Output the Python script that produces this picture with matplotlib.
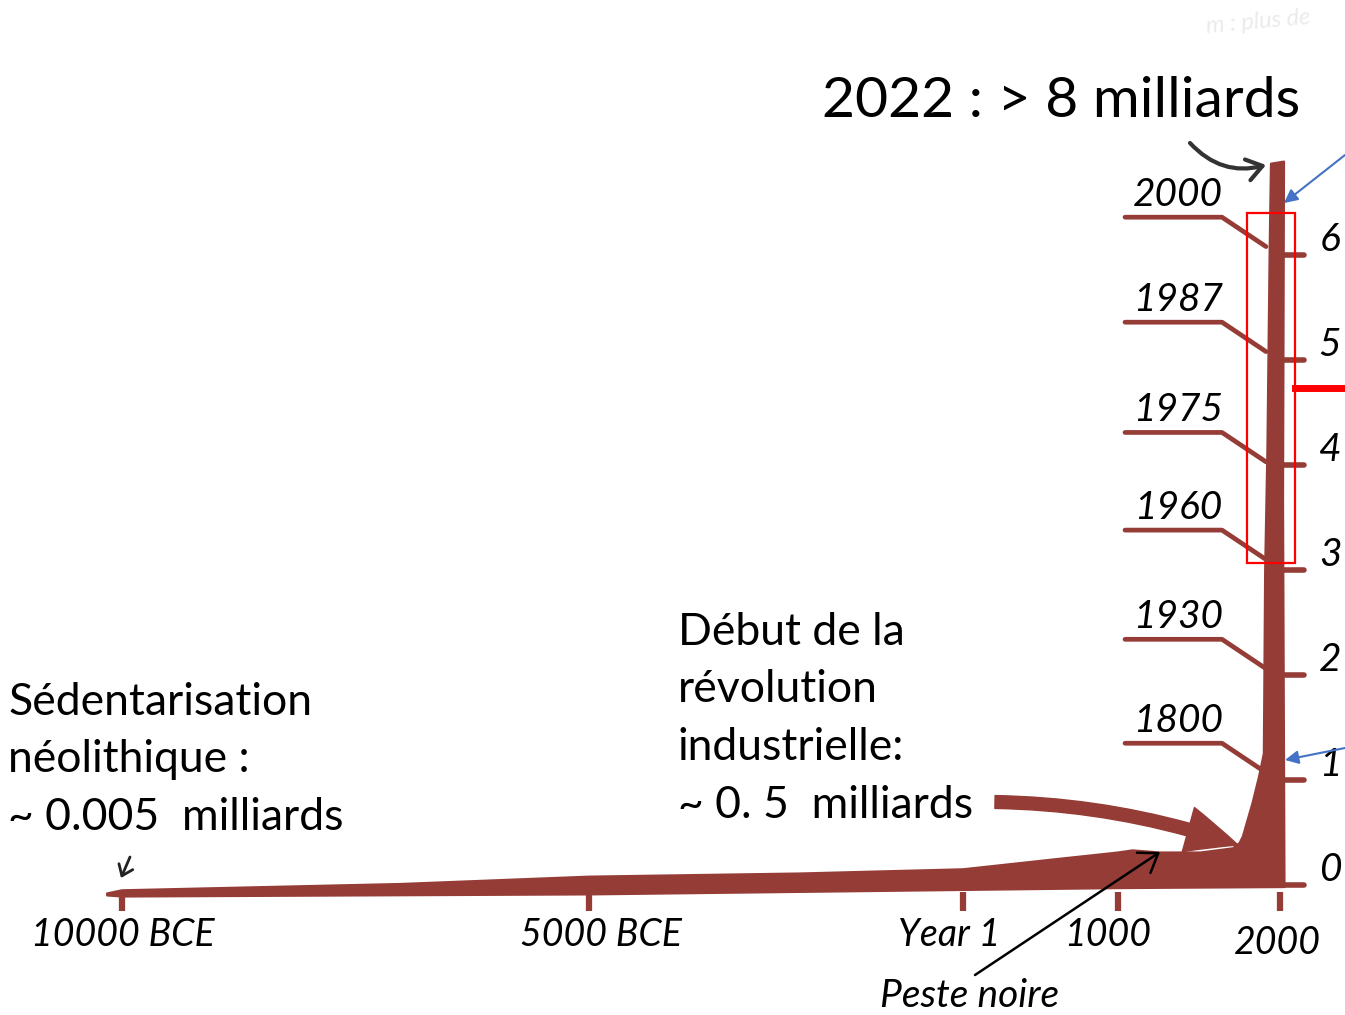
import numpy as np
import matplotlib.pyplot as plt
from matplotlib import transforms
from matplotlib.patches import Polygon, Rectangle

# valeurs (population en milliards)
tick_years = [-10000, -5000, 1, 1000, 2000]
tick_labels = ['10000 BCE', '5000 BCE', 'Year 1', '1000', '2000']

pop_ticks = [0, 1, 2, 3, 4, 5, 6]

branch_labels = ['1800', '1930', '1960', '1975', '1987', '2000']
branch_pop = [1.07, 2.06, 3.10, 4.03, 5.08, 6.08]

# contour haut de la "courbe" dessinee (annee, milliards)
top_years = [-10160, -10000, -7020, -5000, -2180, 1, 560, 1000, 1090, 1260,
             1510, 1710, 1750, 1770, 1830, 1870, 1900, 1908, 1922, 1936, 1944]
top_pop = [-0.08, -0.05, 0.01, 0.08, 0.11, 0.15, 0.24, 0.31, 0.33, 0.31,
           0.31, 0.35, 0.40, 0.46, 0.78, 1.03, 1.25, 3.00, 4.15, 6.06, 6.87]
# bord droit du tronc puis bord bas de la bande
low_years = [2025, 2019, 2028, 1000, -5000, -10000, -10160]
low_pop = [6.89, 3.67, -0.02, -0.03, -0.09, -0.11, -0.10]

W, H = 1345, 1015
brown = '#953c37'
font = ['Lato', 'DejaVu Sans']

# echelle dessinee a la main: annees -> pixels
knot_years = [-11306, -10000, -5000, 1, 1000, 2000, 2401]
knot_px = [0, 122, 589, 963, 1118, 1280, 1345]

def fwd(x):
    return np.interp(x, knot_years, knot_px)

def inv(p):
    return np.interp(p, knot_px, knot_years)

def px(x, y):
    return (x / W, 1 - y / H)

fig = plt.figure(figsize=(W / 100, H / 100), dpi=100)
ax = fig.add_axes([0, 0, 1, 1])
ax.set_xscale('function', functions=(fwd, inv))
ax.set_xlim(knot_years[0], knot_years[-1])
ax.set_ylim((885 - H) / 105, 885 / 105)
ax.axis('off')

# bande population
outline = list(zip(top_years, top_pop)) + list(zip(low_years, low_pop))
ax.add_patch(Polygon(outline, closed=True, facecolor=brown, edgecolor=brown,
                     lw=1.5, joinstyle='round'))

# traits sous l'axe des annees
label_dx = [1, 12, -14, -10, -3]
label_dy = [0, 0, 0, 0, -0.07]
for yr, lab, dx, dy in zip(tick_years, tick_labels, label_dx, label_dy):
    ax.plot([yr, yr], [-0.07, -0.25], color=brown, lw=4.5, solid_capstyle='butt')
    ax.annotate(lab, (yr, -0.48 + dy), xytext=(dx * 0.72, 0), textcoords='offset points',
                ha='center', va='center', fontsize=27, style='italic', family=font)

# graduations a droite du tronc
tr = transforms.blended_transform_factory(ax.transAxes, ax.transData)
for v in pop_ticks:
    ax.plot([1282 / W, 1304 / W], [v, v], transform=tr, color=brown, lw=4,
            solid_capstyle='round')
    ax.text(1330 / W, v + 0.14, str(v), transform=tr, ha='center', va='center',
            fontsize=28, style='italic', family=font)

# branches annees
rise = 0.28
for lab, v in zip(branch_labels, branch_pop):
    ax.plot([1125 / W, 1222 / W, 1266 / W], [v + rise, v + rise, v], transform=tr,
            color=brown, lw=3.4, solid_capstyle='round', solid_joinstyle='round')
    ax.text(1178 / W, v + rise + 0.21, lab, transform=tr, ha='center', va='center',
            fontsize=28, style='italic', family=font)

# textes
fig.text(*px(822, 117), '2022 : > 8 milliards', fontsize=41, va='baseline', family=font)
for i, s in enumerate(['Sédentarisation', 'néolithique :', '~ 0.005  milliards']):
    fig.text(*px(8, 715 + 57.5 * i), s, fontsize=32, va='baseline', family=font)
for i, s in enumerate(['Début de la', 'révolution', 'industrielle:', '~ 0. 5  milliards']):
    fig.text(*px(678, 645 + 57.5 * i), s, fontsize=32, va='baseline', family=font)
fig.text(*px(970, 996), 'Peste noire', fontsize=28, style='italic', ha='center',
         va='center', family=font)
fig.text(*px(1258, 22), 'm : plus de', fontsize=17, style='italic', ha='center',
         va='center', color='#ebebeb', rotation=5, family=font)

# fleches
ax.annotate('', xy=px(1238, 845), xytext=px(995, 802), xycoords='figure fraction',
            arrowprops=dict(arrowstyle='simple,head_length=1.7,head_width=1.5,tail_width=0.42',
                            color=brown, connectionstyle='arc3,rad=-0.08',
                            mutation_scale=22, shrinkA=0, shrinkB=0))
ax.annotate('', xy=px(1160, 852), xytext=px(975, 975), xycoords='figure fraction',
            arrowprops=dict(arrowstyle='->,head_length=0.5,head_width=0.35', color='black',
                            lw=1.8, mutation_scale=25, shrinkA=0, shrinkB=0))
ax.annotate('', xy=px(1266, 165), xytext=px(1190, 143), xycoords='figure fraction',
            arrowprops=dict(arrowstyle='->,head_length=0.5,head_width=0.35', color='#333333',
                            lw=3, mutation_scale=22, connectionstyle='arc3,rad=0.3',
                            shrinkA=0, shrinkB=0))
ax.annotate('', xy=px(121, 878), xytext=px(130, 857), xycoords='figure fraction',
            arrowprops=dict(arrowstyle='->,head_length=0.4,head_width=0.3', color='#222222',
                            lw=2, mutation_scale=18, shrinkA=0, shrinkB=0))
for start, end in [((1345, 155), (1284, 203)), ((1345, 748), (1285, 760))]:
    ax.annotate('', xy=px(*end), xytext=px(*start), xycoords='figure fraction',
                arrowprops=dict(arrowstyle='-|>', color='#4472c4', lw=1.5,
                                mutation_scale=20, shrinkA=0, shrinkB=0))

# cadre rouge et trait rouge
fig.patches.append(Rectangle(px(1247, 563), 48 / W, 350 / H, fill=False,
                             edgecolor='red', lw=1.6, transform=fig.transFigure))
fig.lines.append(plt.Line2D([1295 / W, 1], [1 - 388 / H] * 2, color='red', lw=5,
                            transform=fig.transFigure))

fig.savefig('out.png', dpi=100)
